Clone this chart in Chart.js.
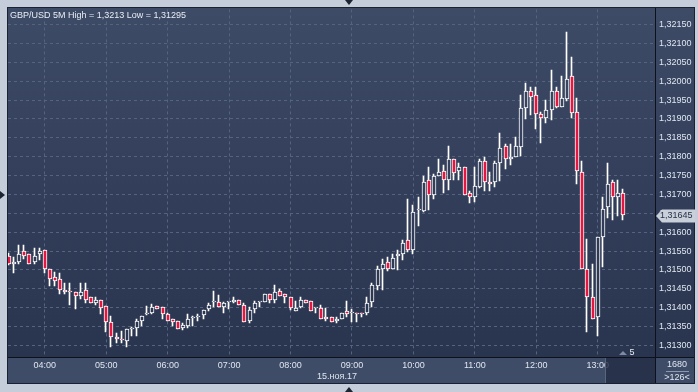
<!DOCTYPE html>
<html><head><meta charset="utf-8">
<script src="https://cdn.jsdelivr.net/npm/chart.js@4.4.1/dist/chart.umd.min.js"></script>
<style>html,body{margin:0;padding:0;background:#c4cdd9;overflow:hidden}canvas{display:block}</style>
</head><body>
<canvas id="c" width="698" height="392" style="width:698px;height:392px"></canvas>
<script>
const times = ["03:25","03:30","03:35","03:40","03:45","03:50","03:55",
"04:00","04:05","04:10","04:15","04:20","04:25","04:30","04:35","04:40","04:45","04:50","04:55",
"05:00","05:05","05:10","05:15","05:20","05:25","05:30","05:35","05:40","05:45","05:50","05:55",
"06:00","06:05","06:10","06:15","06:20","06:25","06:30","06:35","06:40","06:45","06:50","06:55",
"07:00","07:05","07:10","07:15","07:20","07:25","07:30","07:35","07:40","07:45","07:50","07:55",
"08:00","08:05","08:10","08:15","08:20","08:25","08:30","08:35","08:40","08:45","08:50","08:55",
"09:00","09:05","09:10","09:15","09:20","09:25","09:30","09:35","09:40","09:45","09:50","09:55",
"10:00","10:05","10:10","10:15","10:20","10:25","10:30","10:35","10:40","10:45","10:50","10:55",
"11:00","11:05","11:10","11:15","11:20","11:25","11:30","11:35","11:40","11:45","11:50","11:55",
"12:00","12:05","12:10","12:15","12:20","12:25","12:30","12:35","12:40","12:45","12:50","12:55",
"13:00","13:05","13:10","13:15","13:20","13:25"];

const opens = [1.31538,1.31515,1.31521,1.31549,1.31543,1.31521,1.31543,
1.31553,1.31503,1.31481,1.31477,1.31448,1.31442,1.31442,1.31431,1.31448,1.31428,1.31412,1.31421,
1.31404,1.31363,1.31323,1.31317,1.31312,1.31343,1.31347,1.31365,1.31382,1.31387,1.31404,1.31402,
1.31382,1.31371,1.31364,1.31347,1.31351,1.31373,1.31375,1.31381,1.31396,1.31415,1.31415,1.31402,
1.31415,1.31415,1.31421,1.31408,1.31365,1.31396,1.31415,1.31415,1.31437,1.31420,1.31443,1.31437,
1.31427,1.31391,1.31402,1.31421,1.31417,1.31398,1.31398,1.31375,1.31375,1.31365,1.31371,1.31391,
1.31386,1.31387,1.31387,1.31386,1.31415,1.31457,1.31503,1.31522,1.31503,1.31538,1.31543,1.31578,
1.31552,1.31659,1.31657,1.31738,1.31699,1.31750,1.31763,1.31738,1.31794,1.31761,1.31773,1.31704,
1.31692,1.31721,1.31789,1.31734,1.31732,1.31783,1.31829,1.31794,1.31798,1.31827,1.31928,1.31974,
1.31963,1.31912,1.31903,1.31923,1.31974,1.31932,1.31954,1.32014,1.31918,1.31760,1.31503,1.31427,
1.31375,1.31587,1.31667,1.31732,1.31692,1.31704];

const highs = [1.31544,1.31534,1.31565,1.31567,1.31543,1.31559,1.31559,
1.31553,1.31503,1.31494,1.31493,1.31464,1.31464,1.31442,1.31464,1.31466,1.31428,1.31428,1.31421,
1.31404,1.31377,1.31332,1.31338,1.31342,1.31349,1.31369,1.31377,1.31404,1.31409,1.31404,1.31402,
1.31386,1.31371,1.31364,1.31358,1.31383,1.31377,1.31383,1.31393,1.31412,1.31443,1.31433,1.31415,
1.31415,1.31427,1.31421,1.31413,1.31402,1.31418,1.31415,1.31437,1.31437,1.31459,1.31449,1.31437,
1.31427,1.31417,1.31427,1.31421,1.31417,1.31398,1.31408,1.31398,1.31375,1.31375,1.31387,1.31417,
1.31395,1.31387,1.31387,1.31427,1.31465,1.31509,1.31528,1.31534,1.31543,1.31553,1.31578,1.31688,
1.31672,1.31694,1.31750,1.31773,1.31754,1.31795,1.31779,1.31829,1.31794,1.31783,1.31773,1.31710,
1.31773,1.31794,1.31800,1.31760,1.31789,1.31864,1.31834,1.31833,1.31851,1.31963,1.31996,1.31984,
1.31984,1.31919,1.31949,1.32029,1.31984,1.32014,1.32130,1.32064,1.31955,1.31789,1.31582,1.31516,
1.31587,1.31693,1.31783,1.31739,1.31738,1.31714];

const lows = [1.31512,1.31492,1.31515,1.31530,1.31516,1.31515,1.31527,
1.31492,1.31456,1.31456,1.31437,1.31435,1.31406,1.31396,1.31424,1.31412,1.31412,1.31406,1.31382,
1.31336,1.31295,1.31307,1.31305,1.31296,1.31324,1.31324,1.31351,1.31381,1.31382,1.31396,1.31369,
1.31365,1.31351,1.31342,1.31341,1.31347,1.31350,1.31365,1.31371,1.31391,1.31402,1.31402,1.31386,
1.31395,1.31413,1.31408,1.31362,1.31358,1.31386,1.31402,1.31415,1.31413,1.31413,1.31431,1.31413,
1.31393,1.31391,1.31398,1.31413,1.31391,1.31386,1.31371,1.31365,1.31362,1.31360,1.31371,1.31375,
1.31362,1.31362,1.31375,1.31381,1.31402,1.31446,1.31448,1.31496,1.31503,1.31501,1.31527,1.31547,
1.31543,1.31615,1.31653,1.31660,1.31688,1.31750,1.31703,1.31712,1.31738,1.31738,1.31699,1.31676,
1.31681,1.31716,1.31708,1.31708,1.31721,1.31736,1.31767,1.31777,1.31798,1.31802,1.31899,1.31911,
1.31873,1.31837,1.31888,1.31897,1.31928,1.31932,1.31948,1.31903,1.31728,1.31503,1.31336,1.31371,
1.31325,1.31507,1.31637,1.31632,1.31644,1.31631];

const closes = [1.31515,1.31522,1.31543,1.31536,1.31516,1.31538,1.31549,
1.31503,1.31477,1.31470,1.31448,1.31441,1.31441,1.31432,1.31442,1.31421,1.31412,1.31421,1.31398,
1.31362,1.31321,1.31316,1.31315,1.31342,1.31344,1.31364,1.31377,1.31382,1.31402,1.31397,1.31382,
1.31365,1.31361,1.31342,1.31354,1.31371,1.31373,1.31375,1.31393,1.31408,1.31415,1.31402,1.31413,
1.31415,1.31421,1.31408,1.31362,1.31393,1.31413,1.31415,1.31437,1.31420,1.31441,1.31431,1.31427,
1.31398,1.31398,1.31421,1.31413,1.31391,1.31398,1.31371,1.31371,1.31362,1.31371,1.31387,1.31383,
1.31386,1.31382,1.31382,1.31413,1.31459,1.31503,1.31516,1.31503,1.31532,1.31543,1.31572,1.31553,
1.31654,1.31659,1.31734,1.31699,1.31750,1.31760,1.31738,1.31794,1.31758,1.31773,1.31699,1.31692,
1.31723,1.31789,1.31732,1.31728,1.31784,1.31823,1.31794,1.31800,1.31829,1.31928,1.31974,1.31958,
1.31912,1.31903,1.31923,1.31974,1.31932,1.31955,1.32007,1.31917,1.31761,1.31503,1.31427,1.31371,
1.31587,1.31662,1.31728,1.31692,1.31704,1.31645];

const tickLabels = ["04:00","05:00","06:00","07:00","08:00","09:00","10:00","11:00","12:00","13:00"];
const priceTicks = [1.3130,1.3135,1.3140,1.3145,1.3150,1.3155,1.3160,1.3165,1.3170,1.3175,1.3180,1.3185,1.3190,1.3195,1.3200,1.3205,1.3210,1.3215];
const titleText = "GBP/USD 5M High = 1,3213 Low = 1,31295";
const dateText = "15.ноя.17";
const dateTick = "09:00";
const lastPrice = 1.31645;
const infoTop = "1680";
const infoBottom = ">126<";
const pageText = "5";

const RED = '#e3173f';
const FONT = '"Liberation Sans", Arial, sans-serif';
const fmt = v => v.toFixed(5).replace('.', ',');
const tickIdx = tickLabels.map(l => times.indexOf(l));

let gradCache = null;
function getGrad(chart) {
  const a = chart.chartArea;
  if (!a) return '#34405b';
  if (!gradCache || gradCache.top !== a.top || gradCache.bottom !== a.bottom) {
    const g = chart.ctx.createLinearGradient(0, a.top, 0, a.bottom);
    g.addColorStop(0, '#3e4b66');
    g.addColorStop(1, '#29344f');
    gradCache = {top: a.top, bottom: a.bottom, g};
  }
  return gradCache.g;
}

// pixel-snap the bar elements produced by the scales so candles look crisp
const snap = {
  id: 'snap',
  afterDatasetsUpdate(chart) {
    const fix = (el, dx) => {
      el.x = Math.round(el.x) + dx;
      const y = Math.round(el.y);
      let b = Math.round(el.base);
      if (b === y) b = y + 1;
      el.y = y; el.base = b;
    };
    chart.getDatasetMeta(1).data.forEach(el => fix(el, 0));
    chart.getDatasetMeta(0).data.forEach(el => fix(el, -0.5));
  }
};

const decor = {
  id: 'decor',
  beforeDraw(chart) {
    const {ctx, chartArea: a, width, height} = chart;
    ctx.save();
    ctx.fillStyle = '#c4cdd9';
    ctx.fillRect(0, 0, width, height);
    ctx.fillStyle = getGrad(chart);
    ctx.fillRect(7, 7, 688, a.bottom - 7);
    ctx.fillStyle = '#3e4c68';
    ctx.fillRect(7, a.bottom, 688, 384 - a.bottom);
    ctx.restore();
  },
  afterDraw(chart) {
    const {ctx, chartArea: a, scales} = chart;
    const xs = scales.x, ys = scales.y;
    ctx.save();
    ctx.fillStyle = 'rgba(35,44,68,0.8)';
    ctx.fillRect(606, a.bottom + 1, a.right - 606, 384 - a.bottom - 1);
    ctx.fillStyle = '#5a6680';
    ctx.fillRect(605, a.bottom + 1, 1, 384 - a.bottom - 1);
    ctx.fillStyle = '#0c111b';
    ctx.fillRect(a.right, 7, 1, 377);
    ctx.fillRect(7, a.bottom, 688, 1);
    ctx.strokeStyle = '#1a2232';
    ctx.lineWidth = 1;
    ctx.strokeRect(7.5, 7.5, 687, 376);
    ctx.fillStyle = '#e8edf5';
    ctx.font = '9px ' + FONT;
    ctx.textAlign = 'left';
    ctx.textBaseline = 'alphabetic';
    ctx.fillText(titleText, 10, 18);
    ctx.textAlign = 'center';
    ctx.fillStyle = '#dfe6f0';
    ctx.fillText(dateText, xs.getPixelForValue(times.indexOf(dateTick)) - 15, 379);
    ctx.fillText(infoTop, 677, 367);
    ctx.fillText(infoBottom, 677, 380);
    ctx.fillStyle = '#8c98ad';
    ctx.fillRect(666, 371, 23, 1);
    ctx.fillStyle = '#e8edf5';
    ctx.fillText(pageText, 632, 355);
    ctx.fillStyle = '#7d8aa2';
    ctx.beginPath();
    ctx.moveTo(619, 355); ctx.lineTo(623, 351); ctx.lineTo(627, 355); ctx.closePath(); ctx.fill();
    const py = Math.round(ys.getPixelForValue(lastPrice)) + 1;
    ctx.fillStyle = '#c9d0da';
    ctx.beginPath();
    ctx.moveTo(656, py); ctx.lineTo(662, py - 6.5); ctx.lineTo(695, py - 6.5);
    ctx.lineTo(695, py + 6.5); ctx.lineTo(662, py + 6.5); ctx.closePath(); ctx.fill();
    ctx.fillStyle = '#26324a';
    ctx.textAlign = 'left';
    ctx.textBaseline = 'middle';
    ctx.fillText(fmt(lastPrice), 660, py);
    ctx.fillStyle = '#1c2433';
    ctx.beginPath(); ctx.moveTo(345, 0); ctx.lineTo(353, 0); ctx.lineTo(349, 5); ctx.closePath(); ctx.fill();
    ctx.beginPath(); ctx.moveTo(345, 392); ctx.lineTo(353, 392); ctx.lineTo(349, 387); ctx.closePath(); ctx.fill();
    ctx.beginPath(); ctx.moveTo(0, 191); ctx.lineTo(0, 199); ctx.lineTo(5, 195); ctx.closePath(); ctx.fill();
    ctx.restore();
  }
};

new Chart(document.getElementById('c'), {
  type: 'bar',
  data: {
    datasets: [
      {
        label: 'wick',
        data: times.map((t, i) => ({x: i, y: [lows[i], highs[i]]})),
        backgroundColor: '#ffffff',
        borderWidth: 0,
        grouped: false,
        barThickness: 1,
        maxBarThickness: 1,
        order: 2
      },
      {
        label: 'body',
        data: times.map((t, i) => ({x: i, y: [opens[i], closes[i]]})),
        backgroundColor: c => (closes[c.dataIndex] < opens[c.dataIndex] ? RED : getGrad(c.chart)),
        borderColor: '#ffffff',
        borderWidth: 1,
        borderSkipped: false,
        grouped: false,
        barThickness: 4,
        maxBarThickness: 4,
        minBarLength: 1,
        order: 1
      }
    ]
  },
  options: {
    responsive: false,
    animation: false,
    devicePixelRatio: 1,
    layout: {padding: {left: 8, top: 8, right: 3, bottom: 8}},
    plugins: {legend: {display: false}, tooltip: {enabled: false}, title: {display: false}},
    scales: {
      x: {
        type: 'linear', min: -0.2, max: 126.2, offset: false,
        grid: {color: '#55637e', lineWidth: 1, drawTicks: false, offset: false},
        border: {display: false, dash: [3, 3]},
        ticks: {autoSkip: false, maxRotation: 0, minRotation: 0, padding: 3, color: '#dfe6f0',
                font: {family: FONT, size: 9}, callback: v => (times[v] !== undefined ? times[v] : '')},
        afterBuildTicks: s => { s.ticks = tickIdx.map(v => ({value: v})); },
        afterFit: s => { s.height = 27; }
      },
      y: {
        type: 'linear', position: 'right', min: 1.312691, max: 1.321904,
        grid: {color: '#55637e', lineWidth: 1, drawTicks: false},
        border: {display: false, dash: [3, 3]},
        ticks: {padding: 4, color: '#dfe6f0', font: {family: FONT, size: 9}, callback: v => fmt(v)},
        afterBuildTicks: s => { s.ticks = priceTicks.map(v => ({value: v})); },
        afterFit: s => { s.width = 40; }
      }
    }
  },
  plugins: [snap, decor]
});
</script>
</body></html>
